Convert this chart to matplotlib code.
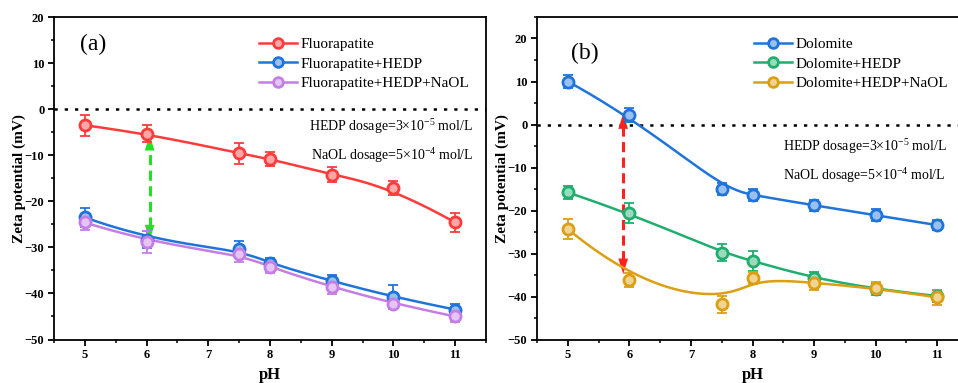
import numpy as np
import matplotlib
matplotlib.use("Agg")
import matplotlib.pyplot as plt
from matplotlib.ticker import MultipleLocator

plt.rcParams['font.family'] = ['Liberation Serif', 'DejaVu Serif']
plt.rcParams['mathtext.fontset'] = 'custom'
plt.rcParams['mathtext.rm'] = 'Liberation Serif'
plt.rcParams['mathtext.it'] = 'Liberation Serif:italic'
plt.rcParams['mathtext.bf'] = 'Liberation Serif:bold'

# ---------------- data ----------------
ph = [5, 6, 7.5, 8, 9, 10, 11]

fap = [-3.5, -5.3, -9.6, -10.8, -14.2, -17.1, -24.6]
fap_err = [2.3, 1.8, 2.2, 1.5, 1.7, 1.6, 2.0]
fap_hedp = [-23.5, -28.3, -30.4, -33.5, -37.3, -40.8, -43.5]
fap_hedp_err = [2.0, 1.8, 1.8, 1.2, 1.2, 2.6, 1.2]
fap_hedp_naol = [-24.6, -28.8, -31.4, -34.3, -38.6, -42.2, -45.0]
fap_hedp_naol_err = [1.6, 2.4, 1.8, 1.2, 1.6, 1.2, 1.2]

dol = [10.0, 2.2, -14.9, -16.4, -18.8, -21.1, -23.4]
dol_err = [1.5, 1.6, 1.4, 1.3, 1.2, 1.4, 1.2]
dol_hedp = [-15.8, -20.6, -29.8, -31.7, -35.8, -38.3, -39.9]
dol_hedp_err = [1.5, 2.4, 1.9, 2.3, 1.5, 1.3, 1.4]
dol_hedp_naol = [-24.3, -36.2, -41.8, -35.7, -36.8, -38.1, -40.2]
dol_hedp_naol_err = [2.3, 1.6, 2.0, 1.3, 1.6, 1.4, 1.8]

labels_a = ['Fluorapatite', 'Fluorapatite+HEDP', 'Fluorapatite+HEDP+NaOL']
labels_b = ['Dolomite', 'Dolomite+HEDP', 'Dolomite+HEDP+NaOL']
xticks = [5, 6, 7, 8, 9, 10, 11]
yticks = [-50, -40, -30, -20, -10, 0, 10, 20]

# annotation arrows (pH, from, to)
arrow_a = (6.05, -28.5, -5.6)
arrow_b = (5.9, 2.6, -34.8)

col_red = '#ff3b3b'
col_blue = '#1f74dc'
col_purple = '#c47ee6'
col_green = '#1fae6e'
col_orange = '#dc9f12'


def bspline(xs, ys, n=400, k=3):
    cp = np.column_stack([xs, ys]).astype(float)
    m = len(cp)
    knots = np.concatenate([np.zeros(k), np.linspace(0, 1, m - k + 1), np.ones(k)])
    t = np.linspace(0, 1, n)
    t[-1] -= 1e-10
    N = np.zeros((n, len(knots) - 1))
    for i in range(len(knots) - 1):
        N[:, i] = ((t >= knots[i]) & (t < knots[i + 1])).astype(float)
    for p in range(1, k + 1):
        Nn = np.zeros((n, len(knots) - 1 - p))
        for i in range(len(knots) - 1 - p):
            d1 = knots[i + p] - knots[i]
            d2 = knots[i + p + 1] - knots[i + 1]
            a = (t - knots[i]) / d1 * N[:, i] if d1 > 0 else 0
            b = (knots[i + p + 1] - t) / d2 * N[:, i + 1] if d2 > 0 else 0
            Nn[:, i] = a + b
        N = Nn
    pts = N @ cp
    return pts[:, 0], pts[:, 1]


def tint(c, f=0.55):
    rgb = np.array(matplotlib.colors.to_rgb(c))
    return tuple(rgb + (1 - rgb) * f)


def series(ax, y, err, color, label):
    cx, cy = bspline(ph, y)
    ax.plot(cx, cy, color=color, lw=1.8, zorder=3)
    ax.errorbar(ph, y, yerr=err, fmt='none', ecolor=color, elinewidth=1.3,
                capsize=3.5, capthick=1.3, zorder=4)
    ax.plot(ph, y, 'o', ms=8, mfc=tint(color), mec=color, mew=2.0, zorder=5)
    ax.plot([], [], '-o', color=color, lw=1.8, ms=7, mfc=tint(color),
            mec=color, mew=2.0, label=label)


def style(ax, ylim, ylabelpad):
    ax.set_xlim(4.5, 11.5)
    ax.set_ylim(*ylim)
    ax.set_xticks(xticks)
    ax.set_yticks(yticks)
    ax.xaxis.set_minor_locator(MultipleLocator(0.5))
    ax.yaxis.set_minor_locator(MultipleLocator(5))
    ax.tick_params(which='major', direction='out', length=4, width=1.3,
                   labelsize=9, pad=3)
    ax.tick_params(which='minor', direction='out', length=2, width=1.1)
    ax.tick_params(top=False, right=False)
    for lab in ax.get_xticklabels() + ax.get_yticklabels():
        lab.set_fontweight('bold')
    for s in ax.spines.values():
        s.set_linewidth(1.3)
    ax.axhline(0, color='black', lw=1.8, dashes=(1.3, 2.8), zorder=1)
    ax.set_xlabel('pH', fontsize=12, fontweight='bold', labelpad=4)
    ax.set_ylabel('Zeta potential (mV)', fontsize=11, fontweight='bold',
                  labelpad=ylabelpad)


def dashed_arrow(ax, x, y0, y1, color):
    hl = 3.0
    sgn = np.sign(y1 - y0)
    ax.plot([x, x], [y0 + sgn * hl, y1 - sgn * hl], color=color, lw=2.2,
            dashes=(3.3, 1.8), zorder=2)
    for tip, base in ((y1, y1 - sgn * hl * 1.1), (y0, y0 + sgn * hl * 1.1)):
        ax.annotate('', xy=(x, tip), xytext=(x, base),
                    arrowprops=dict(arrowstyle='-|>,head_length=0.55,head_width=0.17',
                                    mutation_scale=20, color=color, lw=0.1,
                                    shrinkA=0, shrinkB=0),
                    zorder=2)


fig = plt.figure(figsize=(9.58, 3.83), dpi=100)
ax1 = fig.add_axes([54 / 958, 1 - 339.5 / 383, (486 - 54) / 958, (339.5 - 17) / 383])
ax2 = fig.add_axes([537 / 958, 1 - 339.5 / 383, (968 - 537) / 958, (339.5 - 17) / 383])

# panel a
series(ax1, fap, fap_err, col_red, labels_a[0])
series(ax1, fap_hedp, fap_hedp_err, col_blue, labels_a[1])
series(ax1, fap_hedp_naol, fap_hedp_naol_err, col_purple, labels_a[2])
style(ax1, (-50, 20), -1)
dashed_arrow(ax1, arrow_a[0], arrow_a[1], arrow_a[2], '#22e022')
ax1.text(4.92, 14, '(a)', fontsize=17, va='center', ha='left')
ax1.text(0.97, 0.659, r'HEDP dosage=3×10$^{-5}$ mol/L', transform=ax1.transAxes,
         ha='right', va='center', fontsize=10)
ax1.text(0.97, 0.569, r'NaOL dosage=5×10$^{-4}$ mol/L', transform=ax1.transAxes,
         ha='right', va='center', fontsize=10)
ax1.legend(loc='upper left', bbox_to_anchor=(0.46, 0.955), frameon=False,
           fontsize=11, handlelength=2.5, handletextpad=0.2, labelspacing=0.38,
           borderaxespad=0)

# panel b
series(ax2, dol, dol_err, col_blue, labels_b[0])
series(ax2, dol_hedp, dol_hedp_err, col_green, labels_b[1])
series(ax2, dol_hedp_naol, dol_hedp_naol_err, col_orange, labels_b[2])
style(ax2, (-50, 25), -1)
dashed_arrow(ax2, arrow_b[0], arrow_b[1], arrow_b[2], '#ff2020')
ax2.text(5.05, 16.5, '(b)', fontsize=17, va='center', ha='left')
ax2.text(783 / 958, 1 - 147 / 383, r'HEDP dosage=3×10$^{-5}$ mol/L', transform=fig.transFigure,
         ha='left', va='center', fontsize=10)
ax2.text(783 / 958, 1 - 176 / 383, r'NaOL dosage=5×10$^{-4}$ mol/L', transform=fig.transFigure,
         ha='left', va='center', fontsize=10)
ax2.legend(loc='upper left', bbox_to_anchor=(0.49, 0.955), frameon=False,
           fontsize=11, handlelength=2.5, handletextpad=0.2, labelspacing=0.38,
           borderaxespad=0)

fig.savefig('out.png', dpi=100)
